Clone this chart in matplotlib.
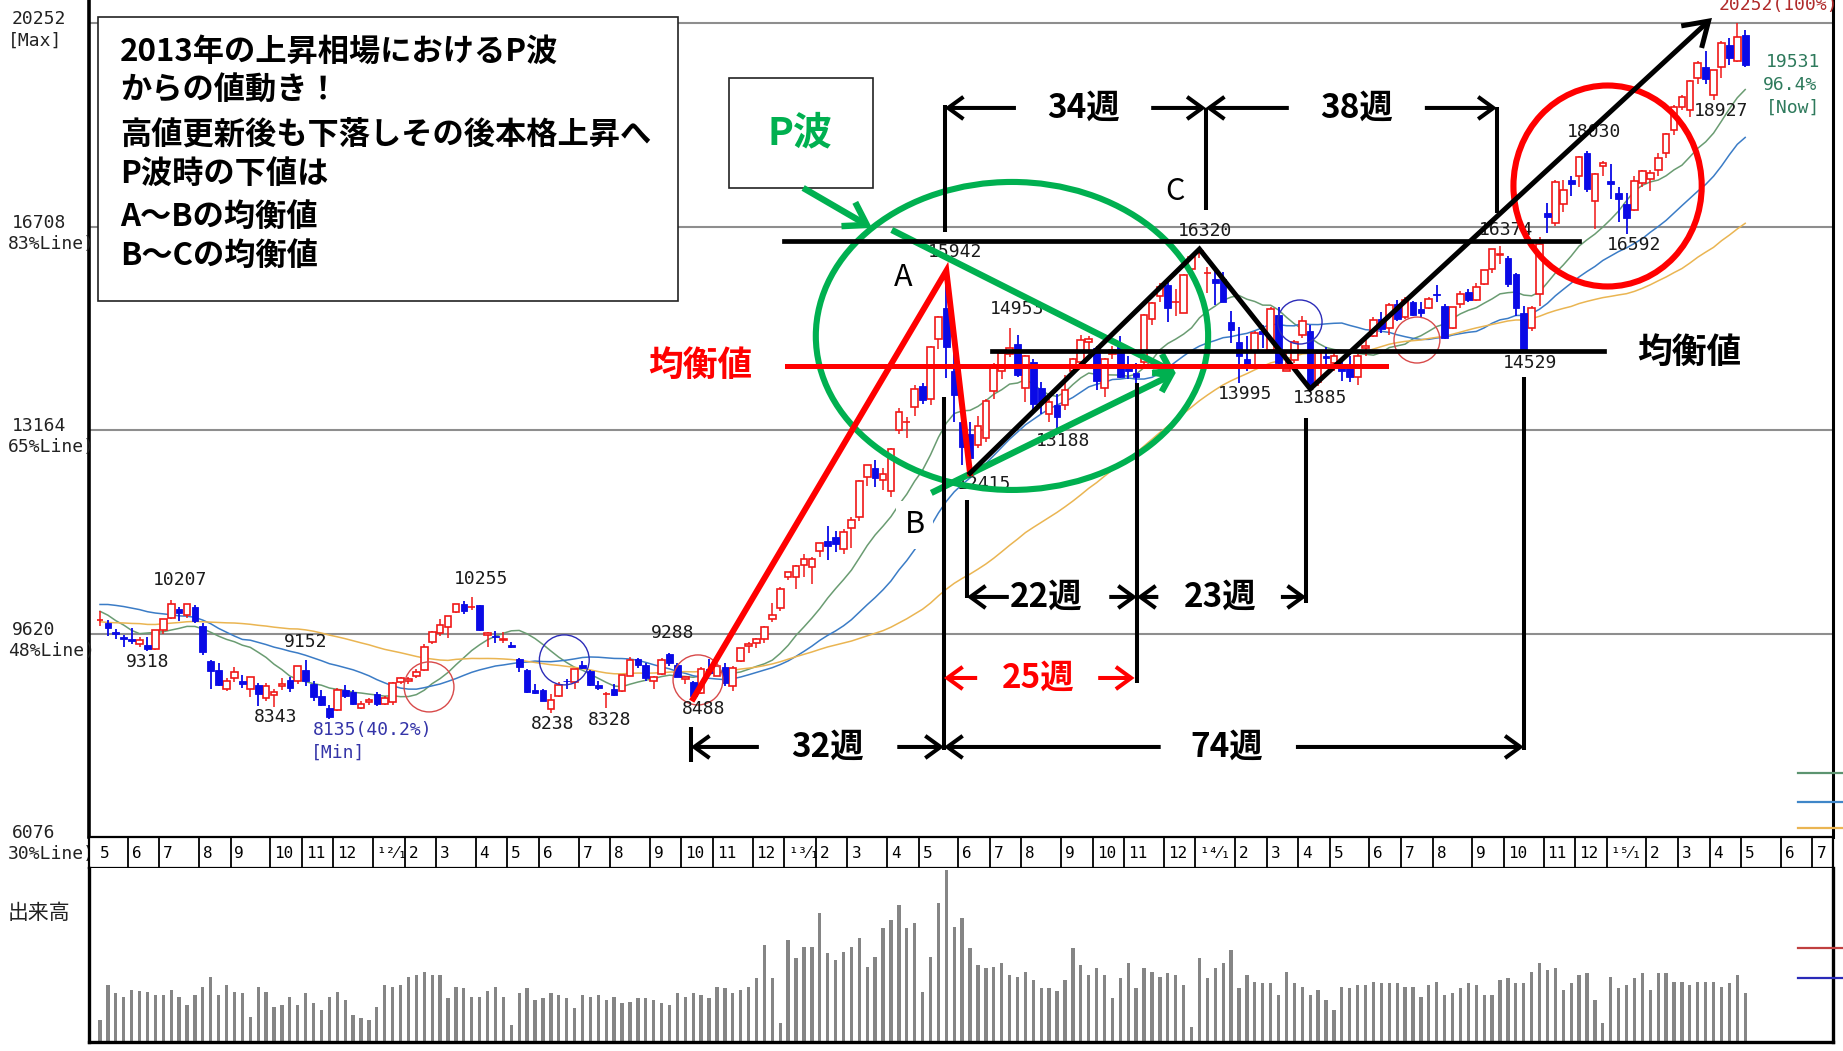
import numpy as np
import pandas as pd
import matplotlib
matplotlib.use('Agg')
import matplotlib.pyplot as plt
from matplotlib.patches import Ellipse, Rectangle
from matplotlib.lines import Line2D

plt.rcParams['font.family'] = ['Noto Sans CJK JP', 'DejaVu Sans']

# weekly closes before the first candle (only feed the moving averages)
prior_closes = [10462, 9784, 9762, 9901, 9705, 10064, 9737, 9203, 9585, 9408, 9431, 9537,
                9642, 9253, 9179, 8991, 9114, 9239, 9509, 9471, 9404, 9589, 9500, 9427, 9202,
                9625, 9725, 10022, 10039, 10178, 10212, 10303, 10279, 10229, 10541, 10499,
                10274, 10360, 10543, 10605, 10842, 10527, 10693, 10254, 9207, 9536, 9708,
                9768, 9591, 9682, 9849]

first_week = '2011-05-06'

opens = [9850, 9810, 9650, 9560, 9520, 9440, 9430, 9360, 9680, 9900,
         10050, 9940, 10080, 9750, 9150, 8990, 8660, 8850, 8800, 8650,
         8720, 8500, 8550, 8710, 8820, 8790, 8990, 8750, 8540, 8320,
         8290, 8640, 8600, 8330, 8420, 8560, 8400, 8430, 8770, 8790,
         8880, 8990, 9480, 9630, 9730, 9990, 10140, 10080, 10110, 9600,
         9570, 9510, 9420, 9170, 8980, 8640, 8640, 8300, 8540, 8800,
         8770, 9080, 8960, 8720, 8560, 8650, 8620, 8890, 9170, 9080,
         8800, 8920, 9260, 9080, 8830, 8780, 8580, 9010, 8880, 9030,
         8700, 9140, 9400, 9450, 9530, 9880, 10060, 10600, 10610, 10820,
         10780, 11060, 11240, 11300, 11100, 11460, 11650, 12350, 12500, 12300,
         12100, 13160, 13300, 13570, 13930, 13700, 14750, 15300, 14200, 13300,
         13100, 12900, 13020, 13850, 14200, 14500, 14660, 13900, 14350, 13900,
         13450, 13600, 13600, 14200, 14350, 14700, 14600, 13900, 14500, 14650,
         14300, 14160, 14350, 15100, 15500, 15700, 15400, 15210, 15980, 16250,
         15900, 15800, 15800, 15050, 14700, 14400, 14530, 14900, 14560, 15170,
         14200, 14380, 14830, 14900, 14000, 14460, 14340, 14320, 14300, 14100,
         14600, 14800, 15100, 14950, 15370, 15130, 15400, 15270, 15300, 15530,
         15330, 14950, 15370, 15570, 15440, 15720, 15980, 16210, 16170, 15880,
         15200, 14950, 15530, 16950, 16780, 17100, 17520, 17590, 18000, 17150,
         17770, 17500, 17300, 17100, 17000, 17470, 17550, 17700, 18000, 18400,
         18800, 18750, 19300, 19500, 19000, 19500, 19880, 19600, 20050]

highs = [10017, 9860, 9700, 9600, 9720, 9560, 9560, 9680, 9880, 10207,
         10080, 10140, 10120, 9800, 9160, 9100, 8850, 9030, 8900, 8870,
         8760, 8760, 8660, 8840, 8860, 9050, 9152, 8790, 8640, 8370,
         8670, 8720, 8640, 8440, 8490, 8600, 8540, 8770, 8860, 8860,
         9000, 9440, 9660, 9870, 9930, 10130, 10190, 10255, 10120, 9650,
         9670, 9640, 9470, 9190, 9010, 8740, 8650, 8560, 8780, 8830,
         9010, 9140, 8980, 8800, 8610, 8740, 8900, 9220, 9200, 9100,
         8880, 9200, 9288, 9100, 8890, 8800, 9030, 9180, 9060, 9110,
         9050, 9370, 9470, 9550, 9760, 10160, 10430, 10690, 10820, 11000,
         10960, 11200, 11500, 11400, 11450, 11660, 12300, 12560, 12650, 12500,
         12860, 13550, 13400, 13960, 13990, 14630, 15160, 15942, 14700, 13700,
         13300, 13420, 13700, 14330, 14570, 14953, 14830, 14480, 14400, 14000,
         13700, 13800, 14120, 14430, 14820, 14800, 14630, 14420, 14640, 14810,
         14450, 14330, 15190, 15400, 15730, 15750, 15620, 15880, 16180, 16320,
         16000, 16000, 15930, 15250, 14960, 14800, 14900, 15000, 15310, 15320,
         14520, 14730, 15160, 15000, 14530, 14610, 14560, 14420, 14450, 14500,
         14730, 15140, 15220, 15380, 15440, 15490, 15420, 15400, 15480, 15700,
         15360, 15320, 15590, 15620, 15730, 15960, 16330, 16374, 16200, 15900,
         15330, 15330, 16530, 17130, 17530, 17520, 17600, 17940, 18030, 17650,
         17850, 17800, 17400, 17300, 17600, 17700, 17700, 17990, 18340, 18830,
         19000, 19260, 19600, 19780, 19440, 19940, 20000, 20252, 20140]

lows = [9760, 9581, 9520, 9380, 9440, 9390, 9318, 9340, 9620, 9880,
        9840, 9900, 9800, 9250, 8650, 8700, 8620, 8780, 8680, 8520,
        8360, 8440, 8343, 8640, 8600, 8750, 8700, 8450, 8360, 8135,
        8270, 8490, 8380, 8300, 8380, 8360, 8370, 8380, 8740, 8740,
        8850, 8960, 9440, 9580, 9540, 9980, 9970, 10030, 9670, 9380,
        9460, 9450, 9370, 8950, 8580, 8560, 8440, 8238, 8520, 8650,
        8660, 9000, 8710, 8640, 8328, 8540, 8600, 8880, 9020, 8800,
        8660, 8900, 9050, 8870, 8740, 8488, 8570, 8930, 8880, 8710,
        8620, 9130, 9290, 9370, 9450, 9830, 10020, 10560, 10400, 10600,
        10480, 10960, 10900, 11050, 11010, 11110, 11580, 12200, 12170, 12120,
        12000, 13100, 13030, 13420, 13620, 13600, 14580, 14080, 13300, 12550,
        12415, 12850, 12960, 13700, 14060, 14440, 14100, 13660, 13500, 13450,
        13300, 13188, 13520, 14150, 14300, 14500, 13860, 13750, 14400, 14080,
        14050, 13990, 14300, 14990, 15400, 15050, 15150, 15200, 15900, 16170,
        15560, 15340, 15390, 14680, 13995, 14200, 14250, 14600, 14520, 14300,
        14200, 14330, 14770, 13885, 13940, 14250, 14200, 14030, 14000, 13960,
        14450, 14780, 14850, 14830, 15060, 15100, 15150, 15120, 15280, 15400,
        14750, 14930, 15300, 15400, 15420, 15700, 15900, 16060, 15660, 15150,
        14529, 14900, 15330, 16600, 16720, 16970, 17240, 17400, 17310, 16670,
        17600, 17200, 16800, 16592, 16980, 17400, 17330, 17600, 17900, 18300,
        18740, 18620, 19200, 19200, 18927, 19300, 19520, 19580, 19500]

closes = [9859, 9716, 9607, 9521, 9492, 9514, 9351, 9678, 9868, 10137,
          9974, 10132, 9833, 9299, 8963, 8719, 8797, 8950, 8737, 8864,
          8560, 8700, 8605, 8747, 8678, 9050, 8801, 8514, 8374, 8160,
          8643, 8536, 8401, 8395, 8455, 8390, 8500, 8766, 8841, 8831,
          8947, 9384, 9647, 9777, 9929, 10130, 10011, 10083, 9688, 9637,
          9561, 9520, 9380, 9035, 8611, 8580, 8440, 8459, 8721, 8798,
          9007, 9020, 8725, 8670, 8566, 8555, 8891, 9163, 9070, 8839,
          8871, 9159, 9110, 8870, 8863, 8534, 9002, 8933, 9051, 8757,
          9024, 9366, 9446, 9527, 9737, 9940, 10395, 10688, 10801, 10913,
          10926, 11191, 11153, 11173, 11385, 11606, 12283, 12560, 12338, 12397,
          12833, 13485, 13316, 13884, 13694, 14607, 15138, 14612, 13774, 12877,
          12686, 13230, 13677, 14309, 14506, 14589, 14129, 14466, 13615, 13650,
          13660, 13389, 13860, 14404, 14742, 14760, 14024, 14404, 14561, 14088,
          14201, 14086, 15165, 15382, 15662, 15299, 15403, 15870, 16178, 16291,
          15912, 15734, 15391, 14915, 14462, 14313, 14866, 14841, 15274, 14327,
          14224, 14696, 15063, 13960, 14516, 14429, 14457, 14199, 14097, 14462,
          14632, 15077, 14921, 15349, 15095, 15437, 15164, 15215, 15457, 15523,
          14778, 15318, 15539, 15425, 15668, 15948, 16321, 16229, 15708, 15300,
          14532, 15291, 16413, 16880, 17490, 17357, 17459, 17920, 17371, 17621,
          17818, 17450, 17197, 16864, 17511, 17674, 17648, 17913, 18332, 18797,
          18971, 19254, 19560, 19286, 19435, 19907, 19653, 20020, 19531]

volumes = [44, 114, 98, 90, 104, 102, 100, 94, 94, 104,
           90, 74, 94, 110, 130, 94, 114, 100, 98, 50,
           110, 100, 70, 74, 90, 74, 98, 78, 64, 90,
           100, 84, 54, 48, 44, 70, 114, 110, 114, 130,
           134, 140, 134, 134, 88, 110, 108, 90, 90, 102,
           110, 90, 34, 98, 108, 84, 88, 98, 94, 88,
           68, 94, 90, 94, 84, 90, 78, 80, 88, 88,
           84, 78, 74, 98, 90, 98, 94, 88, 110, 108,
           98, 104, 110, 128, 194, 128, 38, 204, 168, 190,
           190, 258, 178, 164, 180, 190, 208, 150, 170, 228,
           244, 274, 228, 238, 100, 170, 278, 344, 230, 248,
           188, 154, 148, 150, 158, 134, 130, 140, 124, 108,
           108, 102, 124, 188, 154, 134, 148, 134, 88, 128,
           158, 108, 148, 140, 130, 138, 134, 114, 30, 168,
           128, 148, 158, 184, 108, 134, 120, 118, 118, 94,
           140, 118, 110, 94, 104, 84, 64, 110, 108, 114,
           114, 120, 118, 118, 118, 110, 110, 90, 114, 120,
           94, 98, 108, 118, 114, 94, 94, 124, 128, 118,
           118, 140, 158, 144, 148, 104, 118, 134, 138, 84,
           38, 130, 108, 114, 128, 138, 104, 138, 138, 120,
           120, 114, 120, 120, 120, 110, 118, 134, 98]

ma_periods = [13, 26, 52]
ma_colors = ['#6a9c72', '#3b7cc6', '#eab552']

grid_levels = [20252, 16708, 13164, 9620, 6076]
grid_tags = ['[Max]', '83%Line)', '65%Line)', '48%Line)', '30%Line)']

# (week index, 'H' or 'L', dx px, dy px)
point_labels = [(9, 'H', 9, 20), (6, 'L', 0, -11), (26, 'H', 0, 18), (22, 'L', 2, -10),
                (47, 'H', 9, 18), (57, 'L', 2, -11), (64, 'L', 3, -12), (72, 'H', 3, 20),
                (75, 'L', 10, -10), (107, 'H', 9, 19), (115, 'H', 7, 19), (110, 'L', 14, -11),
                (121, 'L', 6, -12), (139, 'H', 6, 18), (144, 'L', 6, -11), (153, 'L', 10, -9),
                (177, 'H', 6, 16), (180, 'L', 6, -11), (188, 'H', 7, 19), (193, 'L', 7, -11),
                (204, 'L', 7, -11)]

box_lines = ['2013年の上昇相場におけるP波', 'からの値動き！', '高値更新後も下落しその後本格上昇へ',
             'P波時の下値は', 'A～Bの均衡値', 'B～Cの均衡値']

W, H = 1843, 1051
fig = plt.figure(figsize=(W / 100, H / 100), dpi=100)
fig.patch.set_facecolor('white')


def frect(x0, y0, x1, y1):
    return [x0 / W, 1 - y1 / H, (x1 - x0) / W, (y1 - y0) / H]


ax = fig.add_axes(frect(89, 0, 1833, 837))
axm = fig.add_axes(frect(89, 837, 1833, 868))
axv = fig.add_axes(frect(89, 868, 1833, 1042))
XL = (-1.39, 219.1)
for a in (ax, axm, axv):
    a.set_xlim(*XL)
    a.set_xticks([])
    a.set_yticks([])
ax.set_ylim(6076, 20661)
for s in ('top', 'bottom'):
    ax.spines[s].set_visible(False)
ax.spines['left'].set_linewidth(2.6)
ax.spines['right'].set_linewidth(2.2)
for s in axm.spines.values():
    s.set_linewidth(1.6)
axv.spines['top'].set_visible(False)
for s in ('left', 'right', 'bottom'):
    axv.spines[s].set_linewidth(2.4)

mono = ['DejaVu Sans Mono', 'DejaVu Sans']
x = np.arange(len(closes))
o = np.array(opens); h = np.array(highs); l = np.array(lows); c = np.array(closes)

for lvl in grid_levels[:-1]:
    ax.axhline(lvl, color='#8e8e8e', lw=1.5, zorder=1)
for lvl, tag in zip(grid_levels, grid_tags):
    ax.annotate(str(lvl), xy=(0, lvl), xycoords=('figure fraction', 'data'), xytext=(12, 4),
                textcoords='offset pixels', ha='left', va='center', fontsize=13, family=mono,
                color='#222222', annotation_clip=False, zorder=12)
    ax.annotate(tag, xy=(0, lvl), xycoords=('figure fraction', 'data'), xytext=(8, -17),
                textcoords='offset pixels', ha='left', va='center', fontsize=13, family=mono,
                color='#222222', annotation_clip=False, zorder=12)

# moving averages
all_closes = pd.Series(prior_closes + closes, dtype=float)
for p, col in zip(ma_periods, ma_colors):
    ma = all_closes.rolling(p).mean().iloc[len(prior_closes):].to_numpy()
    ax.plot(x, ma, color=col, lw=1.1, zorder=2)

# candles
red, blue = '#f01818', '#0a0ae6'
up = c >= o
ax.vlines(x[up], l[up], h[up], color=red, lw=1.1, zorder=3)
ax.vlines(x[~up], l[~up], h[~up], color=blue, lw=1.3, zorder=3)
ax.bar(x[up], c[up] - o[up], bottom=o[up], width=0.84, facecolor='white',
       edgecolor=red, lw=1.2, zorder=4)
ax.bar(x[~up], o[~up] - c[~up], bottom=c[~up], width=0.84, color=blue,
       edgecolor=blue, lw=0.6, zorder=4)

# price labels
for i, kind, dx, dy in point_labels:
    v = highs[i] if kind == 'H' else lows[i]
    ax.annotate(str(v), xy=(i, v), xytext=(dx, dy), textcoords='offset pixels',
                ha='center', va='center', fontsize=13, family=mono, color='#1a1a1a', zorder=7)
i_min = int(np.argmin(l))
ax.annotate(f'{lows[i_min]}(40.2%)', xy=(i_min, lows[i_min]), xytext=(43, -11),
            textcoords='offset pixels', ha='center', va='center', fontsize=13, family=mono,
            color='#3434a8', zorder=7)
ax.annotate('[Min]', xy=(i_min, lows[i_min]), xytext=(9, -34), textcoords='offset pixels',
            ha='center', va='center', fontsize=13, family=mono, color='#3434a8', zorder=7)
i_max = int(np.argmax(h))
ax.annotate(f'{highs[i_max]}(100%)', xy=(i_max, highs[i_max]), xytext=(41, 18),
            textcoords='offset pixels', ha='center', va='center', fontsize=13, family=mono,
            color='#b02a2a', zorder=7, annotation_clip=False)
for txt, dx, dy in [(str(closes[-1]), 48, 3), ('96.4%', 45, -20), ('[Now]', 48, -43)]:
    ax.annotate(txt, xy=(len(closes) - 1, closes[-1]), xytext=(dx, dy), textcoords='offset pixels',
                ha='center', va='center', fontsize=13, family=mono, color='#2e7a5c', zorder=7)

# thin cross circles from the chart software
for cx, cy, w, hh, col in [(41.6, 8691, 6.3, 871, '#d84a4a'), (58.7, 9162, 6.3, 871, '#2c2cb8'),
                           (75.6, 8813, 6.3, 871, '#d84a4a'), (151.7, 15050, 5.6, 767, '#2c2cb8'),
                           (166.5, 14736, 5.8, 801, '#d84a4a')]:
    ax.add_patch(Ellipse((cx, cy), w, hh, fill=False, ec=col, lw=1.0, zorder=5))

# volume
axv.bar(x, volumes, width=0.42, color='#858585', zorder=2)
axv.set_ylim(0, 348)

# month strip
dates = pd.date_range(first_week, periods=221, freq='W-FRI')
sup = str.maketrans('0123456789', '⁰¹²³⁴⁵⁶⁷⁸⁹')
axm.set_ylim(0, 1)
for i in range(0, 220):
    if i > 0 and dates[i].month == dates[i - 1].month:
        continue
    b = i - 0.5
    if i > 0:
        axm.axvline(b, color='k', lw=1.3)
    m = dates[i].month
    lab = str(dates[i].year % 100).translate(sup) + '⁄₁' if m == 1 else str(m)
    axm.text(max(b, XL[0]) + 0.5, 0.48, lab, ha='left', va='center', fontsize=11.5,
             family=mono, color='k')

fig.text(8 / W, 1 - 913 / H, '出来高', ha='left', va='center', fontsize=15, color='#222222')

for yy, col in [(773, '#5c9470'), (802, '#3f86c8'), (828, '#eab552'), (948, '#c04040'), (978, '#2a2ab8')]:
    fig.add_artist(Line2D([1798 / W, 1.0], [1 - yy / H] * 2, color=col, lw=1.6))

# ---------- annotations ----------
cjk = ['Noto Sans CJK JP', 'DejaVu Sans']
Z = 10

ax.add_patch(Rectangle((-0.25, 15417), 73.32, 4948, facecolor='white', edgecolor='#222222',
                       lw=1.2, zorder=Z))
for line, yv in zip(box_lines, [19755, 19076, 18309, 17612, 16880, 16201]):
    ax.text(2.5, yv, line, ha='left', va='center', fontsize=22.5, fontweight='bold',
            family=cjk, color='black', zorder=Z + 1)

ax.add_patch(Rectangle((79.5, 17385), 18.2, 1917, facecolor='white', edgecolor='#222222',
                       lw=1.2, zorder=Z))
ax.text(88.5, 18344, 'P波', ha='center', va='center', fontsize=28, fontweight='bold',
        family=cjk, color='#00b050', zorder=Z + 1)

green = '#00b050'
ax.add_patch(Ellipse((115.3, 14807), 49.6, 5367, fill=False, ec=green, lw=4.4, zorder=Z))
ax.add_patch(Ellipse((190.6, 17420), 23.8, 3502, fill=False, ec='#ff0000', lw=4.4, zorder=Z))


def arrow(p0, p1, color='black', lw=2.9, hl=0.55, hw=0.4, ms=20):
    ax.annotate('', xy=p1, xytext=p0, zorder=Z,
                arrowprops=dict(arrowstyle=f'->,head_length={hl},head_width={hw}', lw=lw,
                                color=color, shrinkA=0, shrinkB=0, mutation_scale=ms,
                                joinstyle='miter', capstyle='butt'))


arrow((88.9, 17386), (97.6, 16689), green, lw=4.6, hl=0.7, hw=0.45, ms=22)
arrow((100.1, 16654), (136.0, 14162), green, lw=4.6, hl=0.5, hw=0.35, ms=22)
arrow((105.1, 12072), (136.0, 14162), green, lw=4.6, hl=0.5, hw=0.35, ms=22)

# red swing 8488 -> A -> B
ax.plot([75, 107, 110], [lows[75], highs[107], lows[110]], color='#ff0000', lw=4.3, zorder=Z,
        solid_joinstyle='miter')
# black swing B -> C -> 13885 -> new high
ax.plot([110, 139, 153], [lows[110], highs[139], lows[153]], color='black', lw=3.6, zorder=Z,
        solid_joinstyle='miter')
arrow((153, lows[153]), (203.8, 20348), 'black', lw=3.6, hl=0.7, hw=0.45, ms=24)

# horizontal levels
ax.plot([86.5, 187.0], [16462, 16462], color='black', lw=3.4, zorder=Z)
ax.plot([86.9, 162.6], [14277, 14277], color='#ff0000', lw=3.6, zorder=Z)
ax.plot([112.8, 190.1], [14547, 14547], color='black', lw=3.4, zorder=Z)
ax.text(75.9, 14286, '均衡値', ha='center', va='center', fontsize=25, fontweight='bold',
        family=cjk, color='#ff0000', zorder=Z + 1)
ax.text(201.0, 14513, '均衡値', ha='center', va='center', fontsize=25, fontweight='bold',
        family=cjk, color='black', zorder=Z + 1)

ax.text(101.5, 15818, 'A', ha='center', va='center', fontsize=22, family=cjk, color='black',
        zorder=Z + 1)
ax.text(103.0, 11514, 'B', ha='center', va='center', fontsize=22, family=cjk, color='black',
        zorder=Z + 1, bbox=dict(facecolor='white', edgecolor='none', pad=6))
ax.text(135.9, 17316, 'C', ha='center', va='center', fontsize=22, family=cjk, color='black',
        zorder=Z + 1)

# vertical guide lines
for xv, y0, y1 in [(106.8, 18832, 16619), (139.8, 18780, 17002), (176.6, 18797, 16950),
                   (106.7, 13744, 7593), (109.6, 11949, 10242), (131.1, 13990, 8766),
                   (152.5, 13380, 10155), (180.0, 14100, 7593), (74.7, 7993, 7383)]:
    ax.plot([xv, xv], [y0, y1], color='black', lw=2.9, zorder=Z, solid_capstyle='butt')


def span(x0, x1, xl, xr, xt, yv, label, color='black'):
    arrow((xl, yv), (x0, yv), color)
    arrow((xr, yv), (x1, yv), color)
    ax.text(xt, yv, label, ha='center', va='center', fontsize=24, fontweight='bold',
            family=cjk, color=color, zorder=Z + 1)


span(106.8, 139.8, 115.8, 132.9, 124.4, 18780, '34週')
span(139.8, 176.6, 150.3, 167.5, 158.8, 18780, '38週')
span(109.6, 131.1, 114.9, 127.6, 119.6, 10259, '22週')
span(131.1, 152.5, 133.8, 149.3, 141.6, 10259, '23週')
span(106.7, 130.8, 110.9, 126.2, 118.6, 8847, '25週', '#ff0000')
span(74.7, 106.7, 83.3, 100.8, 92.0, 7645, '32週')
span(106.7, 180.0, 134.1, 151.2, 142.4, 7645, '74週')

fig.savefig('out.png', dpi=100)
